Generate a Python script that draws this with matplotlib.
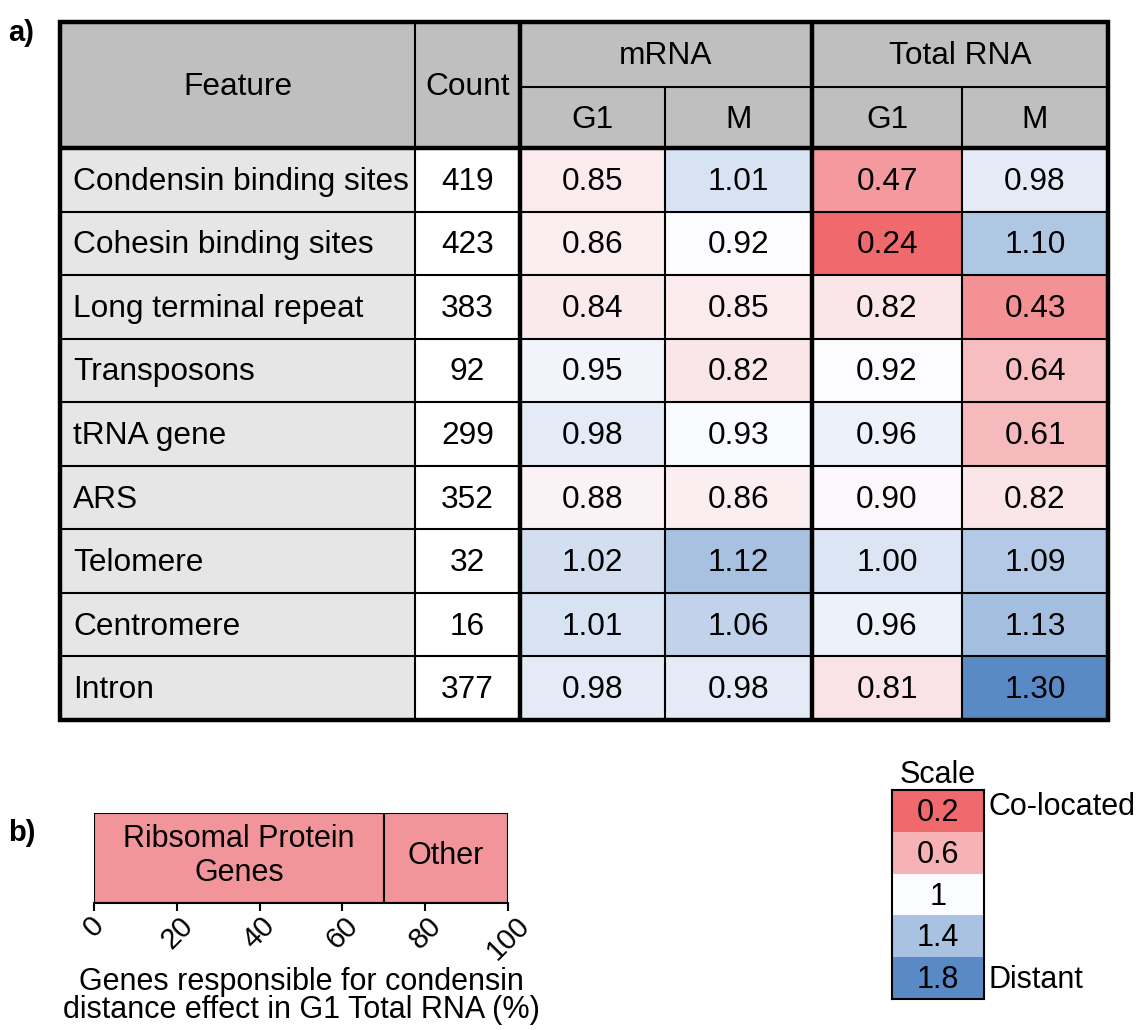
import numpy as np
import matplotlib.pyplot as plt
from matplotlib.colors import LinearSegmentedColormap, TwoSlopeNorm
from matplotlib.patches import Rectangle

plt.rcParams['font.family'] = ['Liberation Sans', 'DejaVu Sans']

# ---- data ----
features = ["Condensin binding sites", "Cohesin binding sites", "Long terminal repeat",
            "Transposons", "tRNA gene", "ARS", "Telomere", "Centromere", "Intron"]
counts = [419, 423, 383, 92, 299, 352, 32, 16, 377]
mrna_g1 = [0.85, 0.86, 0.84, 0.95, 0.98, 0.88, 1.02, 1.01, 0.98]
mrna_m = [1.01, 0.92, 0.85, 0.82, 0.93, 0.86, 1.12, 1.06, 0.98]
total_g1 = [0.47, 0.24, 0.82, 0.92, 0.96, 0.90, 1.00, 0.96, 0.81]
total_m = [0.98, 1.10, 0.43, 0.64, 0.61, 0.82, 1.09, 1.13, 1.30]
groups = ["mRNA", "Total RNA"]
phases = ["G1", "M", "G1", "M"]

gene_groups = ["Ribsomal Protein\nGenes", "Other"]
gene_pct = [70, 30]

scale_vals = [0.2, 0.6, 1, 1.4, 1.8]
scale_labels = ["Co-located", "Distant"]

# excel style red-white-blue scale
cmap = LinearSegmentedColormap.from_list("rwb", ["#F0696D", "#FCFCFF", "#5A8AC6"])

W, H = 1146, 1030
fig = plt.figure(figsize=(W / 100, H / 100), dpi=100)

# ---- a) table, drawn in pixel coords ----
ax = fig.add_axes([0, 0, 1, 1])
ax.set_xlim(0, W)
ax.set_ylim(H, 0)
ax.axis('off')

xe = np.array([60, 415, 520, 665, 812, 962, 1108])
top, hmid, hbot, bot = 22, 87, 148, 720
ye = np.linspace(hbot, bot, len(features) + 1)

fs = 22.8
thin, thick = 1.5, 3.2

# header
ax.add_patch(Rectangle((xe[0], top), xe[-1] - xe[0], hbot - top, color='#BFBFBF', zorder=0))
# feature column + count column backgrounds
ax.add_patch(Rectangle((xe[0], hbot), xe[1] - xe[0], bot - hbot, color='#E6E6E6', zorder=0))
ax.add_patch(Rectangle((xe[1], hbot), xe[2] - xe[1], bot - hbot, color='white', zorder=0))

vals = np.array([mrna_g1, mrna_m, total_g1, total_m]).T
norm = TwoSlopeNorm(vmin=vals.min(), vcenter=np.median(vals), vmax=vals.max())
ax.pcolormesh(xe[2:], ye, vals, cmap=cmap, norm=norm, zorder=1)

ax.text((xe[0] + xe[1]) / 2, (top + hbot) / 2 + 2, "Feature", ha='center', va='center', fontsize=fs)
ax.text((xe[1] + xe[2]) / 2, (top + hbot) / 2 + 2, "Count", ha='center', va='center', fontsize=fs)
for i, g in enumerate(groups):
    ax.text((xe[2 + 2 * i] + xe[4 + 2 * i]) / 2, (top + hmid) / 2 + 2, g, ha='center', va='center', fontsize=fs)
for j, p in enumerate(phases):
    ax.text((xe[2 + j] + xe[3 + j]) / 2, (hmid + hbot) / 2 + 2, p, ha='center', va='center', fontsize=fs)

for r in range(len(features)):
    yc = (ye[r] + ye[r + 1]) / 2 + 2
    ax.text(xe[0] + 13, yc, features[r], ha='left', va='center', fontsize=fs)
    ax.text((xe[1] + xe[2]) / 2, yc, str(counts[r]), ha='center', va='center', fontsize=fs)
    for j in range(4):
        ax.text((xe[2 + j] + xe[3 + j]) / 2, yc, f"{vals[r, j]:.2f}", ha='center', va='center', fontsize=fs)

# grid lines
ax.hlines(ye[1:-1], xe[0], xe[-1], color='black', lw=thin, zorder=3)
ax.hlines(hmid, xe[2], xe[-1], color='black', lw=thin, zorder=3)
ax.hlines(hbot, xe[0], xe[-1], color='black', lw=thick, zorder=4)
ax.vlines([xe[1]], top, bot, color='black', lw=thin, zorder=3)
ax.vlines([xe[3], xe[5]], hmid, bot, color='black', lw=thin, zorder=3)
ax.vlines([xe[2], xe[4]], top, bot, color='black', lw=thick, zorder=4)
ax.add_patch(Rectangle((xe[0], top), xe[-1] - xe[0], bot - top, fill=False,
                       edgecolor='black', lw=thick, zorder=5))

ax.text(8, 33, "a)", fontsize=21, fontweight='bold', ha='left', va='center')
ax.text(8, 833, "b)", fontsize=21, fontweight='bold', ha='left', va='center')

# ---- b) stacked bar ----
bfs = 22
bx = fig.add_axes([94 / W, 1 - 903 / H, 414 / W, 90 / H])
left = 0
for name, pct in zip(gene_groups, gene_pct):
    bx.barh(0, pct, left=left, height=1, color='#F2959A', edgecolor='black', lw=1.5)
    bx.text(left + pct / 2, 0.02, name, ha='center', va='center', fontsize=bfs, linespacing=1.15)
    left += pct
bx.set_xlim(0, 100)
bx.set_ylim(-0.5, 0.5)
bx.set_yticks([])
for s in ['left', 'right', 'top']:
    bx.spines[s].set_visible(False)
bx.spines['bottom'].set_linewidth(1.5)
bx.set_xticks(np.arange(0, 101, 20))
bx.tick_params(axis='x', length=6, width=1.5, labelsize=21, pad=0)
plt.setp(bx.get_xticklabels(), rotation=45, ha='center')
bx.set_xlabel("Genes responsible for condensin\ndistance effect in G1 Total RNA (%)",
              fontsize=bfs, linespacing=0.92, labelpad=1)

# ---- scale legend ----
sx = fig.add_axes([892 / W, 1 - 999 / H, 92 / W, 209 / H])
snorm = TwoSlopeNorm(vmin=min(scale_vals), vcenter=1.0, vmax=max(scale_vals))
sx.pcolormesh(np.array(scale_vals).reshape(-1, 1), cmap=cmap, norm=snorm)
sx.set_ylim(len(scale_vals), 0)
sx.set_xticks([])
sx.set_yticks([])
for s in sx.spines.values():
    s.set_linewidth(1.5)
for i, v in enumerate(scale_vals):
    sx.text(0.5, i + 0.55, f"{v:g}", ha='center', va='center', fontsize=bfs)
sx.set_title("Scale", fontsize=bfs, pad=2)
sx.text(1.05, 0.4, scale_labels[0], ha='left', va='center', fontsize=bfs)
sx.text(1.05, len(scale_vals) - 0.45, scale_labels[1], ha='left', va='center', fontsize=bfs)

fig.savefig("out.png", dpi=100)
